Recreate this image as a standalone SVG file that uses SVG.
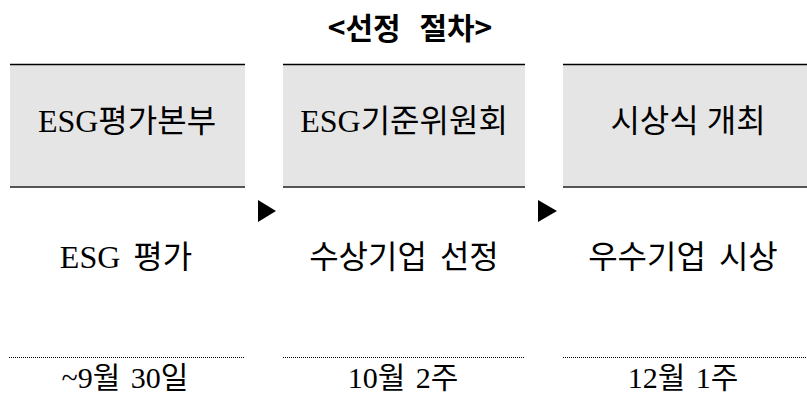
<svg xmlns="http://www.w3.org/2000/svg" width="807" height="398" viewBox="0 0 807 398">
<style>
.title{font-family:"Noto Sans CJK KR","Noto Sans",sans-serif;font-weight:bold;font-size:30px;fill:#000}
.box{fill:#e5e5e5}
.top{stroke:#000;stroke-width:1.3}
.bot{stroke:#555;stroke-width:2}
.lbl{font-family:"Liberation Serif","Noto Sans CJK KR",serif;font-size:32px;fill:#000;text-anchor:middle}
.mid{font-family:"Liberation Serif","Noto Sans CJK KR",serif;font-size:32px;fill:#000;text-anchor:middle;word-spacing:5px}
.date{font-family:"Liberation Serif","Noto Sans CJK KR",serif;font-size:30px;fill:#000;text-anchor:middle;word-spacing:3px}
.dot{stroke:#000;stroke-width:1;stroke-dasharray:1 1}
</style>
<rect width="807" height="398" fill="#fff"/>
<text class="title" x="410" y="39" text-anchor="middle" word-spacing="12">&lt;선정 절차&gt;</text>
<g id="node1">
<rect class="box" x="10" y="64" width="235" height="123"/>
<line class="top" x1="10" y1="64.5" x2="245" y2="64.5"/>
<line class="bot" x1="10" y1="187" x2="245" y2="187"/>
<text class="lbl" x="127" y="132">ESG평가본부</text>
<text class="mid" x="126" y="268">ESG 평가</text>
<line class="dot" x1="9" y1="357.5" x2="245" y2="357.5"/>
<text class="date" x="125" y="388">~9월 30일</text>
</g>
<g id="node2">
<rect class="box" x="283" y="64" width="242" height="123"/>
<line class="top" x1="283" y1="64.5" x2="525" y2="64.5"/>
<line class="bot" x1="283" y1="187" x2="525" y2="187"/>
<text class="lbl" x="404" y="132">ESG기준위원회</text>
<text class="mid" x="404" y="268">수상기업 선정</text>
<line class="dot" x1="283" y1="357.5" x2="525" y2="357.5"/>
<text class="date" x="403" y="388">10월 2주</text>
</g>
<g id="node3">
<rect class="box" x="563" y="64" width="244" height="123"/>
<line class="top" x1="563" y1="64.5" x2="807" y2="64.5"/>
<line class="bot" x1="563" y1="187" x2="807" y2="187"/>
<text class="lbl" x="688" y="132">시상식 개최</text>
<text class="mid" x="683" y="268">우수기업 시상</text>
<line class="dot" x1="563" y1="357.5" x2="807" y2="357.5"/>
<text class="date" x="683" y="388">12월 1주</text>
</g>
<g id="connectors">
<polygon points="258,200 276,211 258,222" fill="#000"/>
<polygon points="538,200 557,211 538,222" fill="#000"/>
</g>
</svg>
